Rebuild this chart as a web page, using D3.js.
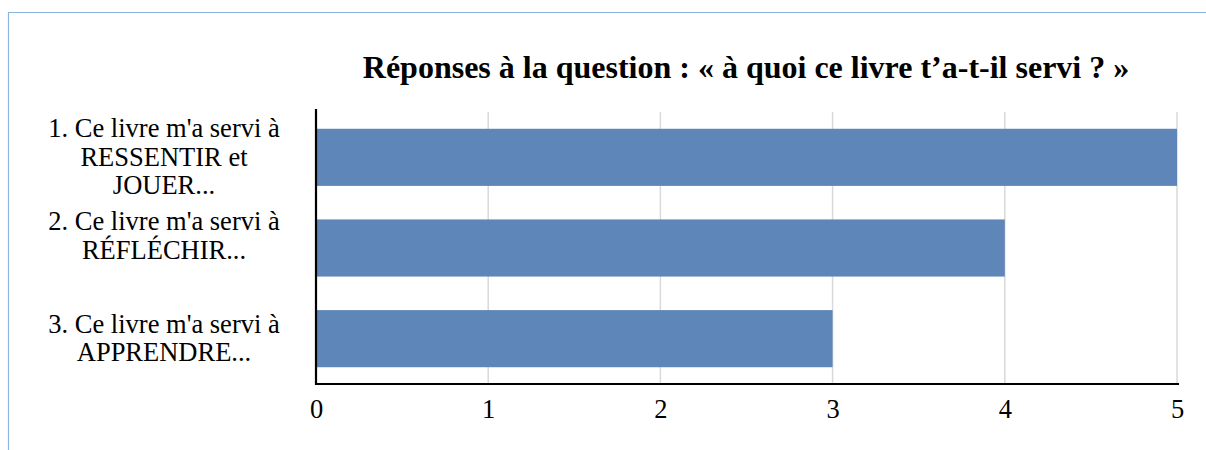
<!DOCTYPE html>
<html><head><meta charset="utf-8">
<script src="https://cdn.jsdelivr.net/npm/d3@7"></script>
<style>body{margin:0;background:#fff}svg{display:block}</style>
</head><body>
<script>
const title = "Réponses à la question : « à quoi ce livre t’a-t-il servi ? »";
const categories = ["1. Ce livre m'a servi à RESSENTIR et JOUER...", "2. Ce livre m'a servi à RÉFLÉCHIR...", "3. Ce livre m'a servi à APPRENDRE..."];
const categoryLines = [["1. Ce livre m'a servi à", "RESSENTIR et", "JOUER..."], ["2. Ce livre m'a servi à", "RÉFLÉCHIR..."], ["3. Ce livre m'a servi à", "APPRENDRE..."]];
const values = [5, 4, 3];
const xTicks = [0, 1, 2, 3, 4, 5];

const W = 1206, H = 450;
const svg = d3.select("body").append("svg").attr("width", W).attr("height", H);
const font = "'Liberation Serif','Times New Roman',serif";

// frame
svg.append("path").attr("d", `M8.5,${H} V12.5 H${W}`).attr("fill", "none").attr("stroke", "#8eb4e3").attr("stroke-width", 1.2);

const m = {left: 316, right: 1177, top: 112, bottom: 384};
const x = d3.scaleLinear().domain([0, 5]).range([m.left, m.right]);
const y = d3.scaleBand().domain(categories).range([m.top, m.bottom]).paddingInner(0.37).paddingOuter(0.185);

// gridlines
svg.append("g").selectAll("line").data(xTicks.slice(1)).join("line")
  .attr("x1", d => x(d)).attr("x2", d => x(d)).attr("y1", m.top).attr("y2", m.bottom)
  .attr("stroke", "#d9d9d9").attr("stroke-width", 1.5);

// bars
svg.append("g").selectAll("rect").data(values).join("rect")
  .attr("x", x(0)).attr("y", (d, i) => y(categories[i]))
  .attr("width", d => x(d) - x(0)).attr("height", y.bandwidth())
  .attr("fill", "#5e86b9");

// axes
const xAxis = d3.axisBottom(x).tickValues(xTicks).tickSize(0).tickPadding(15).tickFormat(d3.format("d"));
const gx = svg.append("g").attr("transform", `translate(0,${m.bottom})`).call(xAxis);
gx.select(".domain").attr("stroke", "#000").attr("stroke-width", 2.2).attr("d", `M${m.left - 1},0H${m.right + 2}`);
gx.selectAll("text").attr("font-family", font).attr("font-size", 26.5).attr("fill", "#000");

const gy = svg.append("g").attr("transform", `translate(${m.left},0)`).call(d3.axisLeft(y).tickSize(0).tickFormat(""));
gy.select(".domain").attr("stroke", "#000").attr("stroke-width", 2.2).attr("d", `M0,${m.top - 3}V${m.bottom + 1}`);

// category labels
const lh = 28.5;
const shift = [0, -12, 0];
categories.forEach((c, i) => {
  const lines = categoryLines[i];
  const cy = y(c) + y.bandwidth() / 2 + shift[i];
  const t = svg.append("text").attr("font-family", font).attr("font-size", 26.5).attr("text-anchor", "middle").attr("fill", "#000");
  lines.forEach((l, k) => {
    t.append("tspan").attr("x", 164).attr("y", cy + 8.5 + (k - (lines.length - 1) / 2) * lh).text(l);
  });
});

// title
svg.append("text").attr("x", 746).attr("y", 78).attr("text-anchor", "middle")
  .attr("font-family", font).attr("font-weight", "bold").attr("font-size", 32).attr("fill", "#000").text(title);
</script>
</body></html>
